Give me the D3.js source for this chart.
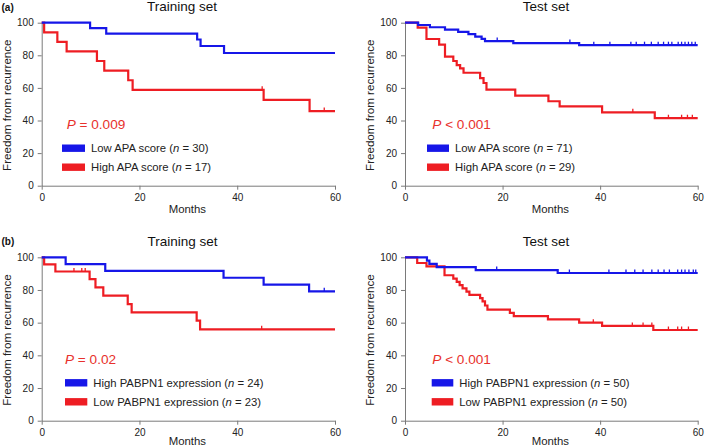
<!DOCTYPE html>
<html><head><meta charset="utf-8">
<script src="https://cdn.jsdelivr.net/npm/d3@7"></script>
<style>body{margin:0;background:#fff} svg{display:block}</style>
</head><body><svg id="c" width="705" height="448"></svg>
<script>
// ---------------- data ----------------
const xTicks = [0, 20, 40, 60];
const yTicks = [0, 20, 40, 60, 80, 100];
const panelLetters = ["(a)", "(b)"];
const panelTitles = ["Training set", "Test set", "Training set", "Test set"];
const pValues = ["= 0.009", "< 0.001", "= 0.02", "< 0.001"];
const legendNames = ["Low APA score", "High APA score", "Low APA score", "High APA score",
  "High PABPN1 expression", "Low PABPN1 expression", "High PABPN1 expression", "Low PABPN1 expression"];
const legendN = [30, 17, 71, 29, 24, 23, 50, 50];

// (a) Training set
const trainApaLowT = [9.9, 13.2, 31.8, 32.5, 37.3];
const trainApaLowS = [96.7, 93.3, 89.7, 85.7, 81.4];
const trainApaLowCens = [];
const trainApaHighT = [0.5, 3.2, 5.1, 11.3, 12.8, 17.7, 18.6, 45.4, 54.8];
const trainApaHighS = [94.1, 88.2, 82.4, 76.5, 70.6, 64.7, 58.8, 52.6, 45.8];
const trainApaHighCens = [45.1, 57.8];
// (a) Test set
const testApaLowT = [2.7, 5.1, 8.2, 10.9, 13.0, 14.4, 15.7, 16.4, 22.2, 35.7];
const testApaLowS = [98.6, 97.2, 95.8, 94.4, 93.0, 91.5, 90.1, 88.7, 87.5, 86.2];
const testApaLowCens = [18.9, 33.8, 38.7, 42.0, 46.3, 47.4, 49.1, 50.5, 51.9, 53.0, 54.0, 54.7, 56.0, 56.7, 57.4, 58.1, 58.8, 59.5];
const testApaHighT = [2.6, 4.4, 7.0, 8.2, 9.9, 10.6, 11.3, 12.0, 15.4, 16.1, 16.7, 22.6, 29.4, 31.7, 40.4, 51.2];
const testApaHighS = [97.0, 90.0, 86.5, 79.2, 76.5, 74.0, 72.0, 69.3, 66.0, 63.0, 59.0, 55.3, 51.8, 48.7, 45.0, 41.4];
const testApaHighCens = [46.7, 54.0, 56.7, 57.9, 58.9];
// (b) Training set
const trainPabHighT = [4.9, 13.0, 37.2, 45.4, 54.7];
const trainPabHighS = [95.8, 91.7, 87.5, 83.3, 79.2];
const trainPabHighCens = [57.8];
const trainPabLowT = [0.5, 2.8, 9.8, 11.0, 12.6, 17.6, 18.4, 31.7, 32.4];
const trainPabLowS = [95.7, 91.3, 86.7, 81.6, 76.5, 71.4, 66.3, 61.2, 55.9];
const trainPabLowCens = [6.6, 8.2, 8.9, 45.0];
// (b) Test set
const testPabHighT = [4.5, 5.0, 6.5, 14.5, 31.3];
const testPabHighS = [98.0, 96.0, 94.0, 92.2, 90.4];
const testPabHighCens = [18.8, 33.7, 41.8, 45.3, 47.1, 48.8, 50.6, 51.9, 53.1, 54.2, 55.9, 56.7, 57.4, 58.2, 59.1, 59.6];
const testPabLowT = [2.5, 4.4, 8.1, 9.9, 10.6, 11.2, 11.8, 12.6, 13.2, 15.4, 15.9, 16.4, 16.9, 21.5, 22.3, 29.3, 35.7, 40.4, 50.9];
const testPabLowS = [96.5, 94.5, 89.0, 87.0, 85.0, 83.0, 81.0, 79.0, 77.0, 75.0, 73.0, 70.5, 68.0, 66.0, 64.0, 62.0, 60.0, 58.0, 55.5];
const testPabLowCens = [38.6, 46.6, 48.8, 50.6, 54.0, 55.9, 56.7, 58.1];

// ---------------- drawing ----------------
const FONT = 'Arial, "Liberation Sans", Helvetica, sans-serif';
const BLUE = '#1616e8', RED = '#ee1d23', PRED = '#e8312c';
const svg = d3.select('#c').attr('font-family', FONT);

function panel(o) {
  const x = d3.scaleLinear().domain([0, 60]).range([o.x0, o.x1]);
  const y = d3.scaleLinear().domain([0, 100]).range([o.yb, o.yt]);
  const g = svg.append('g');

  const ax = g.append('g').attr('transform', `translate(0,${o.yb})`)
    .call(d3.axisBottom(x).tickValues(xTicks).tickSize(4).tickPadding(4.5).tickSizeOuter(0));
  const ay = g.append('g').attr('transform', `translate(${o.x0},0)`)
    .call(d3.axisLeft(y).tickValues(yTicks).tickSize(4).tickPadding(4).tickSizeOuter(0));
  [ax, ay].forEach(a => {
    a.attr('font-family', FONT).attr('font-size', 10);
    a.selectAll('path,line').attr('stroke', '#7a7a7a').attr('stroke-width', 1);
    a.selectAll('text').attr('fill', '#222');
  });

  g.append('text').attr('x', (o.x0 + o.x1) / 2 - 1).attr('y', o.yb + o.monthsDy)
    .attr('text-anchor', 'middle').attr('font-size', 11.4).attr('fill', '#222').text('Months');
  g.append('text').attr('transform', `translate(${o.x0 - 31.2},${(o.yt + o.yb) / 2 + 1}) rotate(-90)`)
    .attr('text-anchor', 'middle').attr('font-size', 11.6).attr('fill', '#222').text('Freedom from recurrence');
  g.append('text').attr('x', o.titleX).attr('y', o.yt - 11.5).attr('text-anchor', 'middle')
    .attr('font-size', 13.5).attr('fill', '#111').text(o.title);

  const line = d3.line().x(d => x(d[0])).y(d => y(d[1])).curve(d3.curveStepAfter);
  o.series.forEach(s => {
    const pts = [[0, 100]].concat(s.t.map((t, i) => [t, s.s[i]]));
    pts.push([60, s.s[s.s.length - 1]]);
    g.append('path').attr('d', line(pts)).attr('fill', 'none').attr('stroke', s.color)
      .attr('stroke-width', 2.2).attr('stroke-linejoin', 'miter');
    const valAt = c => { let v = 100; s.t.forEach((t, i) => { if (t <= c) v = s.s[i]; }); return v; };
    g.selectAll(null).data(s.cens).join('line')
      .attr('x1', c => x(c)).attr('x2', c => x(c))
      .attr('y1', c => y(valAt(c)) - 3.5).attr('y2', c => y(valAt(c)))
      .attr('stroke', s.color).attr('stroke-width', 1.3);
  });

  // P value
  const pt = g.append('text').attr('x', o.pX).attr('y', o.yt + 106.6)
    .attr('font-size', 13.6).attr('fill', PRED);
  pt.append('tspan').attr('font-style', 'italic').text('P');
  pt.append('tspan').text(' ' + o.p);

  // legend
  o.legend.forEach((L, i) => {
    const cy = o.yt + 125.5 + i * 19;
    g.append('rect').attr('x', o.legX).attr('y', cy - 3.7).attr('width', o.legW).attr('height', 7.4)
      .attr('fill', L.color);
    const t = g.append('text').attr('x', o.legX + o.legW + 6).attr('y', cy + 4.2)
      .attr('font-size', 11.3).attr('fill', '#222');
    t.append('tspan').text(L.name + ' (');
    t.append('tspan').attr('font-style', 'italic').text('n');
    t.append('tspan').text(' = ' + L.n + ')');
  });
}

const L = (i, color) => ({ name: legendNames[i], n: legendN[i], color });

panel({ x0: 41.7, x1: 335, yt: 22.7, yb: 185.7, monthsDy: 27.5, titleX: 182, title: panelTitles[0], pX: 66.7, p: pValues[0],
  legX: 62, legW: 23, legend: [L(0, BLUE), L(1, RED)],
  series: [
    { t: trainApaHighT, s: trainApaHighS, cens: trainApaHighCens, color: RED },
    { t: trainApaLowT, s: trainApaLowS, cens: trainApaLowCens, color: BLUE }] });
panel({ x0: 405, x1: 697.7, yt: 22.7, yb: 185.7, monthsDy: 27.5, titleX: 546, title: panelTitles[1], pX: 432.3, p: pValues[1],
  legX: 427, legW: 22, legend: [L(2, BLUE), L(3, RED)],
  series: [
    { t: testApaHighT, s: testApaHighS, cens: testApaHighCens, color: RED },
    { t: testApaLowT, s: testApaLowS, cens: testApaLowCens, color: BLUE }] });
panel({ x0: 41.7, x1: 335, yt: 257.3, yb: 420.7, monthsDy: 24.6, titleX: 182.5, title: panelTitles[2], pX: 65, p: pValues[2],
  legX: 65, legW: 22.3, legend: [L(4, BLUE), L(5, RED)],
  series: [
    { t: trainPabLowT, s: trainPabLowS, cens: trainPabLowCens, color: RED },
    { t: trainPabHighT, s: trainPabHighS, cens: trainPabHighCens, color: BLUE }] });
panel({ x0: 405, x1: 697.7, yt: 257.3, yb: 420.7, monthsDy: 24.6, titleX: 546, title: panelTitles[3], pX: 432.3, p: pValues[3],
  legX: 431.7, legW: 21.6, legend: [L(6, BLUE), L(7, RED)],
  series: [
    { t: testPabLowT, s: testPabLowS, cens: testPabLowCens, color: RED },
    { t: testPabHighT, s: testPabHighS, cens: testPabHighCens, color: BLUE }] });

svg.append('text').attr('x', 1.5).attr('y', 10.5).attr('font-size', 10).attr('font-weight', 'bold')
  .attr('fill', '#111').text(panelLetters[0]);
svg.append('text').attr('x', 1.5).attr('y', 244.5).attr('font-size', 10).attr('font-weight', 'bold')
  .attr('fill', '#111').text(panelLetters[1]);
</script></body></html>
